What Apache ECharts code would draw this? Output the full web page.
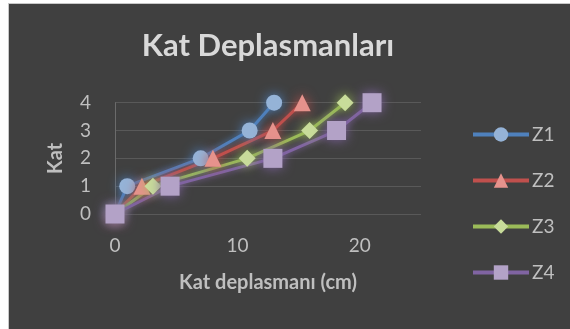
<!DOCTYPE html>
<html>
<head>
<meta charset="utf-8">
<style>
  html, body { margin: 0; padding: 0; background: #ffffff; }
  #frame { position: absolute; left: 8px; top: 3px; width: 562px; height: 326px;
           border-left: 1px solid #c8c8c8; border-top: 1px solid #c8c8c8; background: #404040; }
  #chart { position: absolute; left: 0; top: 0; width: 570px; height: 329px; }
</style>
<script src="https://cdn.jsdelivr.net/npm/echarts@6/dist/echarts.min.js"></script>
</head>
<body>
<div id="frame"></div>
<div id="chart"></div>
<script>
// Story levels (Kat) and lateral displacement per story (cm) for each zone
const floors = [0, 1, 2, 3, 4];
const z1 = [0, 1.0, 7.0, 11.0, 13.0];
const z2 = [0, 2.2, 8.0, 12.9, 15.3];
const z3 = [0, 3.1, 10.8, 15.9, 18.8];
const z4 = [0, 4.5, 12.9, 18.1, 21.0];
const xTicks = [0, 10, 20];

const seriesDefs = [
  { name: 'Z1', data: z1, line: '#4f81bd', fill: '#95b3d7', symbol: 'circle', size: 16 },
  { name: 'Z2', data: z2, line: '#c0504d', fill: '#e6928c', symbol: 'triangle', size: 17 },
  { name: 'Z3', data: z3, line: '#9bbb59', fill: '#c8dc9a', symbol: 'diamond', size: 17 },
  { name: 'Z4', data: z4, line: '#8064a2', fill: '#b3a2c7', symbol: 'rect', size: 19 }
];

const chart = echarts.init(document.getElementById('chart'));
const font = 'Lato, "Open Sans", sans-serif';

chart.setOption({
  backgroundColor: 'transparent',
  animation: false,
  graphic: [{
    type: 'text',
    x: 268, y: 46,
    style: {
      text: 'Kat Deplasmanları',
      fill: '#d9d9d9', fontSize: 31, fontWeight: 'bold', fontFamily: font,
      align: 'center', verticalAlign: 'middle'
    }
  }],
  legend: {
    orient: 'vertical',
    left: 471, top: 125, padding: 0,
    itemWidth: 56, itemHeight: 18, itemGap: 27,
    lineStyle: { width: 4 },
    textStyle: { color: '#bfbfbf', fontSize: 19, lineHeight: 18, fontFamily: font, padding: [0, 0, 0, -2] },
    data: seriesDefs.map(s => s.name)
  },
  grid: { left: 115, right: 149, top: 102.7, bottom: 115, containLabel: false },
  xAxis: {
    type: 'value', min: 0, max: 25, interval: 10,
    name: 'Kat deplasmanı (cm)', nameLocation: 'middle', nameGap: 59,
    nameTextStyle: { color: '#bfbfbf', fontSize: 20, fontWeight: 'bold', fontFamily: font },
    axisLine: { show: false }, axisTick: { show: false }, splitLine: { show: false },
    axisLabel: {
      color: '#bfbfbf', fontSize: 19, fontFamily: font, margin: 22,
      showMaxLabel: false,
      formatter: v => (xTicks.indexOf(v) >= 0 ? String(v) : '')
    }
  },
  yAxis: {
    type: 'value', min: 0, max: 4, interval: 1,
    name: 'Kat', nameLocation: 'middle', nameGap: 49, nameRotate: 90,
    nameTextStyle: { color: '#bfbfbf', fontSize: 20, fontWeight: 'bold', fontFamily: font },
    axisLine: { show: true, lineStyle: { color: '#6b6b6b', width: 1 } },
    axisTick: { show: false },
    splitLine: { lineStyle: { color: '#595959', width: 1 } },
    axisLabel: { color: '#bfbfbf', fontSize: 19, fontFamily: font, margin: 24 }
  },
  series: seriesDefs.map(s => ({
    name: s.name,
    type: 'line',
    data: s.data.map((x, i) => [x, floors[i]]),
    symbol: s.symbol,
    symbolSize: s.size,
    lineStyle: { color: s.line, width: 3, shadowBlur: 6, shadowColor: s.line },
    itemStyle: { color: s.fill, shadowBlur: 12, shadowColor: s.line },
    emphasis: { disabled: true }
  }))
});
</script>
</body>
</html>
